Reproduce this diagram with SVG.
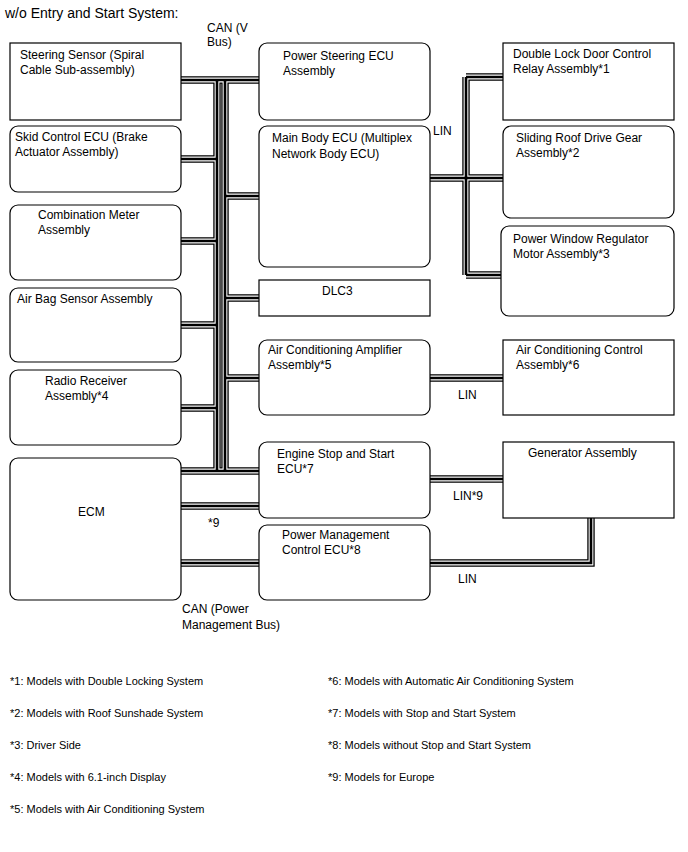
<svg xmlns="http://www.w3.org/2000/svg" width="688" height="852" viewBox="0 0 688 852">
<style>
text{font-family:"Liberation Sans",Arial,sans-serif;font-size:12px;fill:#000}
.title{font-size:14px}
.fn{font-size:11px}
.box{fill:#fff;stroke:#000;stroke-width:1.2}
.b1{fill:none;stroke:#000;stroke-width:7.4}
.b2{fill:none;stroke:#fff;stroke-width:4.8}
.b3{fill:none;stroke:#000;stroke-width:2.6}
</style>
<defs>
<g id="busPaths">
<path d="M181 80H259M181 471H259M217 80V471M225 80V471M181 159H217M181 241H217M181 325H217M181 408H217M225 196H259M225 298H259M225 378H259M181 506H259M181 563H259"/>
<path d="M430 178H503M466 77V275M466 77H503M466 275H501M430 378H503M430 479H503M591 518V563H430"/>
</g>
</defs>
<rect width="688" height="852" fill="#fff"/>
<text class="title" x="5" y="18">w/o Entry and Start System:</text>

<g id="connectors">
<use href="#busPaths" class="b1"/>
<use href="#busPaths" class="b2"/>
<use href="#busPaths" class="b3"/>
</g>

<g id="steering"><rect class="box" x="10" y="43" width="171" height="77"/><text x="20" y="59">Steering Sensor (Spiral</text><text x="20" y="74">Cable Sub-assembly)</text></g>
<g id="skid"><rect class="box" x="10" y="126" width="171" height="66" rx="8"/><text x="15" y="141">Skid Control ECU (Brake</text><text x="15" y="156">Actuator Assembly)</text></g>
<g id="combination"><rect class="box" x="10" y="205" width="171" height="75" rx="8"/><text x="38" y="219">Combination Meter</text><text x="38" y="234">Assembly</text></g>
<g id="airbag"><rect class="box" x="10" y="288" width="171" height="74" rx="8"/><text x="17" y="303">Air Bag Sensor Assembly</text></g>
<g id="radio"><rect class="box" x="10" y="370" width="171" height="75" rx="8"/><text x="45" y="385">Radio Receiver</text><text x="45" y="400">Assembly*4</text></g>
<g id="ecm"><rect class="box" x="10" y="458" width="171" height="142" rx="8"/><text x="78" y="516">ECM</text></g>

<g id="powersteering"><rect class="box" x="259" y="43" width="171" height="77" rx="8"/><text x="283" y="60">Power Steering ECU</text><text x="283" y="75">Assembly</text></g>
<g id="mainbody"><rect class="box" x="259" y="126" width="171" height="141" rx="8"/><text x="272" y="142">Main Body ECU (Multiplex</text><text x="272" y="158">Network Body ECU)</text></g>
<g id="dlc3"><rect class="box" x="259" y="280" width="171" height="36"/><text x="322" y="295">DLC3</text></g>
<g id="acamp"><rect class="box" x="259" y="340" width="171" height="75" rx="8"/><text x="268" y="354">Air Conditioning Amplifier</text><text x="268" y="369">Assembly*5</text></g>
<g id="enginestop"><rect class="box" x="259" y="442" width="171" height="76" rx="8"/><text x="277" y="458">Engine Stop and Start</text><text x="277" y="473">ECU*7</text></g>
<g id="powermgmt"><rect class="box" x="259" y="525" width="171" height="75" rx="8"/><text x="282" y="539">Power Management</text><text x="282" y="554">Control ECU*8</text></g>

<g id="doublelock"><rect class="box" x="503" y="43" width="171" height="77"/><text x="513" y="58">Double Lock Door Control</text><text x="513" y="73">Relay Assembly*1</text></g>
<g id="slidingroof"><rect class="box" x="503" y="126" width="171" height="92" rx="8"/><text x="516" y="142">Sliding Roof Drive Gear</text><text x="516" y="157">Assembly*2</text></g>
<g id="powerwindow"><rect class="box" x="501" y="226" width="173" height="90" rx="8"/><text x="513" y="243">Power Window Regulator</text><text x="513" y="258">Motor Assembly*3</text></g>
<g id="accontrol"><rect class="box" x="503" y="340" width="171" height="75"/><text x="516" y="354">Air Conditioning Control</text><text x="516" y="369">Assembly*6</text></g>
<g id="generator"><rect class="box" x="503" y="442" width="171" height="76"/><text x="528" y="457">Generator Assembly</text></g>

<g id="labels">
<text x="207" y="32">CAN (V</text><text x="207" y="46">Bus)</text>
<text x="433" y="135">LIN</text>
<text x="458" y="399">LIN</text>
<text x="453" y="500">LIN*9</text>
<text x="208" y="527">*9</text>
<text x="458" y="583">LIN</text>
<text x="182" y="613">CAN (Power</text><text x="182" y="629">Management Bus)</text>
</g>

<g id="footnotes">
<text class="fn" x="10" y="685">*1: Models with Double Locking System</text>
<text class="fn" x="10" y="717">*2: Models with Roof Sunshade System</text>
<text class="fn" x="10" y="749">*3: Driver Side</text>
<text class="fn" x="10" y="781">*4: Models with 6.1-inch Display</text>
<text class="fn" x="10" y="813">*5: Models with Air Conditioning System</text>
<text class="fn" x="328" y="685">*6: Models with Automatic Air Conditioning System</text>
<text class="fn" x="328" y="717">*7: Models with Stop and Start System</text>
<text class="fn" x="328" y="749">*8: Models without Stop and Start System</text>
<text class="fn" x="328" y="781">*9: Models for Europe</text>
</g>
</svg>
